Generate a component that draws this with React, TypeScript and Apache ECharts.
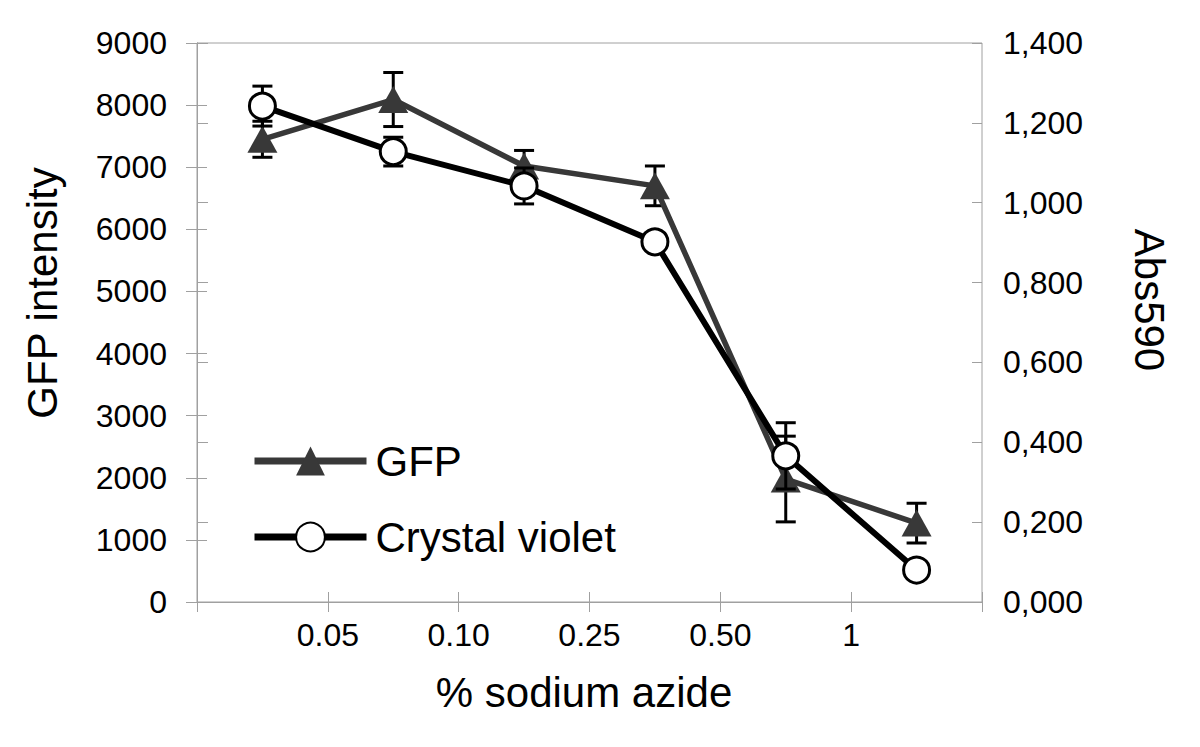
import React, { useEffect, useRef } from "react";
import * as echarts from "echarts";

// x positions sit in the middle of each dilution band; tick labels sit on band edges
const xPositions = [0.5, 1.5, 2.5, 3.5, 4.5, 5.5];
const xTickLabels = ["", "0.05", "0.10", "0.25", "0.50", "1", ""];

const gfpValues = [7450, 8090, 7020, 6700, 1980, 1270];
const gfpErrors = [290, 435, 250, 320, 690, 320];

const cvValues = [1.242, 1.128, 1.042, 0.902, 0.366, 0.08];
const cvErrors = [0.05, 0.036, 0.045, 0.01, 0.083, 0.01];

const leftTicks = { min: 0, max: 9000, interval: 1000 };
const rightTicks = { min: 0, max: 1.4, interval: 0.2 };

const FONT = '"Liberation Sans", Arial, sans-serif';
const AXIS_GRAY = "#a0a0a0";
const GFP_COLOR = "#383838";

function errorSeries(values: number[], errors: number[], yAxisIndex: number, z: number) {
  const data = xPositions.map((x, i) => [x, values[i] - errors[i], values[i] + errors[i]]);
  return {
    type: "custom",
    yAxisIndex,
    z,
    silent: true,
    data,
    encode: { x: 0, y: [1, 2] },
    renderItem: (params: any, api: any) => {
      const x = api.value(0);
      const lo = api.coord([x, api.value(1)]);
      const hi = api.coord([x, api.value(2)]);
      const hw = 10;
      const style = { stroke: "#000", lineWidth: 3 };
      return {
        type: "group",
        children: [
          { type: "line", shape: { x1: hi[0], y1: hi[1], x2: lo[0], y2: lo[1] }, style },
          { type: "line", shape: { x1: hi[0] - hw, y1: hi[1], x2: hi[0] + hw, y2: hi[1] }, style },
          { type: "line", shape: { x1: lo[0] - hw, y1: lo[1], x2: lo[0] + hw, y2: lo[1] }, style },
        ],
      };
    },
  };
}

export default function App() {
  const ref = useRef<HTMLDivElement>(null);
  useEffect(() => {
    document.body.style.margin = "0";
    if (!ref.current) return;
    const chart = echarts.init(ref.current, null, { renderer: "svg" });
    const tickLabel = { fontFamily: FONT, fontSize: 32, color: "#000" };
    const overlayAxisCommon = {
      axisLine: { show: false },
      axisLabel: { show: false },
      splitLine: { show: false },
      axisTick: { show: true, inside: true, length: 10, lineStyle: { color: AXIS_GRAY, width: 1 } },
    };
    chart.setOption({
      animation: false,
      backgroundColor: "#fff",
      grid: {
        left: 197,
        right: 218,
        top: 43,
        bottom: 145,
        show: true,
        borderColor: AXIS_GRAY,
        borderWidth: 1,
        containLabel: false,
      },
      xAxis: [
        {
          type: "value",
          min: 0,
          max: 6,
          interval: 1,
          position: "bottom",
          axisLine: { show: true, lineStyle: { color: AXIS_GRAY, width: 1 } },
          axisTick: { show: true, length: 10, lineStyle: { color: AXIS_GRAY, width: 1 } },
          splitLine: { show: false },
          axisLabel: {
            ...tickLabel,
            margin: 17,
            formatter: (v: number) => xTickLabels[Math.round(v)] ?? "",
          },
        },
        { type: "value", min: 0, max: 6, interval: 1, position: "bottom", ...overlayAxisCommon },
      ],
      yAxis: [
        {
          type: "value",
          position: "left",
          ...leftTicks,
          axisLine: { show: true, lineStyle: { color: AXIS_GRAY, width: 1 } },
          axisTick: { show: true, length: 11, lineStyle: { color: AXIS_GRAY, width: 1 } },
          splitLine: { show: false },
          axisLabel: { ...tickLabel, margin: 30, formatter: (v: number) => String(v) },
        },
        {
          type: "value",
          position: "right",
          ...rightTicks,
          axisLine: { show: true, lineStyle: { color: AXIS_GRAY, width: 1 } },
          axisTick: { show: true, length: 11, lineStyle: { color: AXIS_GRAY, width: 1 } },
          splitLine: { show: false },
          axisLabel: {
            ...tickLabel,
            margin: 21,
            formatter: (v: number) => v.toFixed(3).replace(".", ","),
          },
        },
        { type: "value", position: "left", ...leftTicks, ...overlayAxisCommon },
        { type: "value", position: "right", ...rightTicks, ...overlayAxisCommon },
      ],
      legend: {
        data: [
          { name: "GFP", lineStyle: { width: 7, color: GFP_COLOR } },
          { name: "Crystal violet", lineStyle: { width: 7, color: "#000" } },
        ],
        orient: "vertical",
        left: 246,
        top: 435,
        itemWidth: 112,
        itemHeight: 36,
        itemGap: 34,
        textStyle: { fontFamily: FONT, fontSize: 42, color: "#000", padding: [0, 0, 0, 4] },
      },
      graphic: [
        {
          type: "text",
          x: 42,
          y: 293,
          rotation: Math.PI / 2,
          style: { text: "GFP intensity", font: `42px ${FONT}`, fill: "#000", align: "center", verticalAlign: "middle" },
        },
        {
          type: "text",
          x: 1149,
          y: 300,
          rotation: -Math.PI / 2,
          style: { text: "Abs590", font: `42px ${FONT}`, fill: "#000", align: "center", verticalAlign: "middle" },
        },
        {
          type: "text",
          x: 584,
          y: 692,
          style: { text: "% sodium azide", font: `42px ${FONT}`, fill: "#000", align: "center", verticalAlign: "middle" },
        },
      ],
      series: [
        errorSeries(gfpValues, gfpErrors, 0, 1),
        {
          name: "GFP",
          type: "line",
          yAxisIndex: 0,
          z: 2,
          data: xPositions.map((x, i) => [x, gfpValues[i]]),
          symbol: "triangle",
          symbolSize: [30, 27],
          lineStyle: { color: GFP_COLOR, width: 5.5 },
          itemStyle: { color: GFP_COLOR },
        },
        errorSeries(cvValues, cvErrors, 1, 3),
        {
          name: "Crystal violet",
          type: "line",
          yAxisIndex: 1,
          z: 4,
          data: xPositions.map((x, i) => [x, cvValues[i]]),
          symbol: "circle",
          symbolSize: 26,
          lineStyle: { color: "#000", width: 6 },
          itemStyle: { color: "#fff", borderColor: "#000", borderWidth: 3 },
        },
      ],
    });
    return () => chart.dispose();
  }, []);
  return <div ref={ref} style={{ width: 1200, height: 747 }} />;
}
